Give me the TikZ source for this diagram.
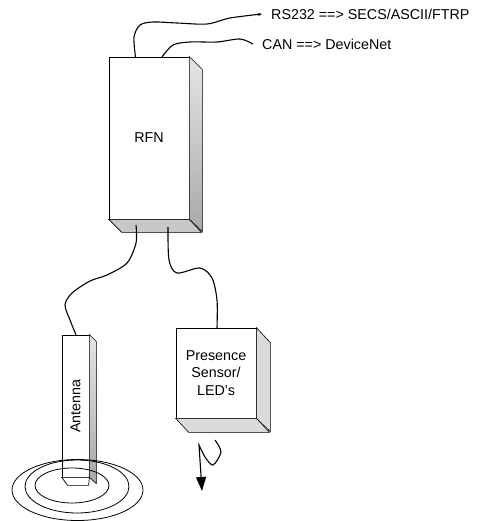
\documentclass[tikz,border=0pt]{standalone}
\usepackage{fontspec}
\setmainfont{Liberation Sans}
\usepackage{tikz}
\usetikzlibrary{arrows.meta,shapes.geometric}

\begin{document}
\begin{tikzpicture}[
        x=1pt,
        y=-1pt,
        every node/.style={font=\fontsize{14.3}{17.5}\selectfont},
        front/.style={
            draw,
            line width=0.7pt,
            align=center
        },
        sideface/.style={
            draw,
            line width=0.6pt,
            shade,
            top color=black!10,
            bottom color=black!34
        },
        lightface/.style={
            draw,
            line width=0.6pt,
            fill=black!14
        },
        underface/.style={
            draw,
            line width=0.7pt,
            fill=black!22
        },
        tag/.style={
            anchor=west,
            inner sep=9pt
        },
        ring/.style={
            draw,
            ellipse,
            line width=0.8pt,
            inner sep=0pt
        },
        wire/.style={line width=1.1pt}
    ]
    \useasboundingbox (0,0) rectangle (477,521);

    % Main boxes
    \node[front, minimum width=80pt, minimum height=162pt] (rfn) at (149,138) {RFN};
    \node[front, minimum width=27pt, minimum height=142pt] (antenna) at (75.5,406) {\rotatebox{90}{Antenna}};
    \node[front, minimum width=80pt, minimum height=90pt] (sensor) at (216,373) {Presence\\Sensor/\\LED's};

    % Side and under faces
    \draw[sideface] (rfn.north east) -- ++(13,13) -- ++(0,162) -- (rfn.south east) -- cycle;
    \draw[underface] (rfn.south west) -- ++(13,13) -- ++(80,0) -- (rfn.south east) -- cycle;
    \draw[sideface] (antenna.north east) -- ++(7,7) -- ++(0,142) -- (antenna.south east) -- cycle;
    \draw[front, fill=white] (antenna.south west) -- ++(6,8) -- ++(21,0) -- (antenna.south east) -- cycle;
    \draw[lightface] (sensor.north east) -- ++(14,15) -- ++(0,89) -- (sensor.south east) -- cycle;
    \draw[lightface] (sensor.south west) -- ++(13,14) -- ++(81,0) -- (sensor.south east) -- cycle;

    % Rings round the antenna
    \node[ring, minimum width=131pt, minimum height=61pt] (ringouter) at (77.5,490) {};
    \node[ring, minimum width=104pt, minimum height=53pt] (ringmiddle) at (77,486.5) {};
    \node[ring, minimum width=74pt, minimum height=35pt] (ringinner) at (72,485.5) {};

    % Labels
    \node[tag] (rs232) at (262,14) {RS232 ==> SECS/ASCII/FTRP};
    \node[tag] (can) at (253,44) {CAN ==> DeviceNet};

    % Wire ends
    \coordinate (rfnRS) at (135.5,57);
    \coordinate (rfnCAN) at (162,57);
    \coordinate (rfnAnt) at (136,225);
    \coordinate (rfnSensor) at (168,227);
    \coordinate (antTop) at (76,335);
    \coordinate (sensorTop) at (217,328);
    \coordinate (beamStart) at (215,440);
    \coordinate (beamEnd) at (202,491);

    % Wires
    \draw[wire, -{Stealth[length=4pt,width=3pt]}] plot[smooth] coordinates
        {(rfnRS) (134,37) (140,25) (153,22) (177,23) (207,24) (230,18) (rs232.west)};
    \draw[wire] plot[smooth] coordinates
        {(rfnCAN) (173,45) (190,42) (217,42) (240,39) (can.west)};
    \draw[wire] plot[smooth] coordinates
        {(rfnAnt) (136,243) (127,263) (107,275) (90,281) (72,293) (65,305) (70,320) (antTop)};
    \draw[wire] plot[smooth] coordinates
        {(rfnSensor) (169,260) (177,273) (200,268) (212,278) (217,300) (sensorTop)};

    % Squiggle with arrow
    \draw[wire, -{Triangle[length=14pt,width=10pt]}] plot[smooth] coordinates
        {(beamStart) (221,452) (213,465) (205,457) (199,445)} -- (beamEnd);

\end{tikzpicture}
\end{document}
